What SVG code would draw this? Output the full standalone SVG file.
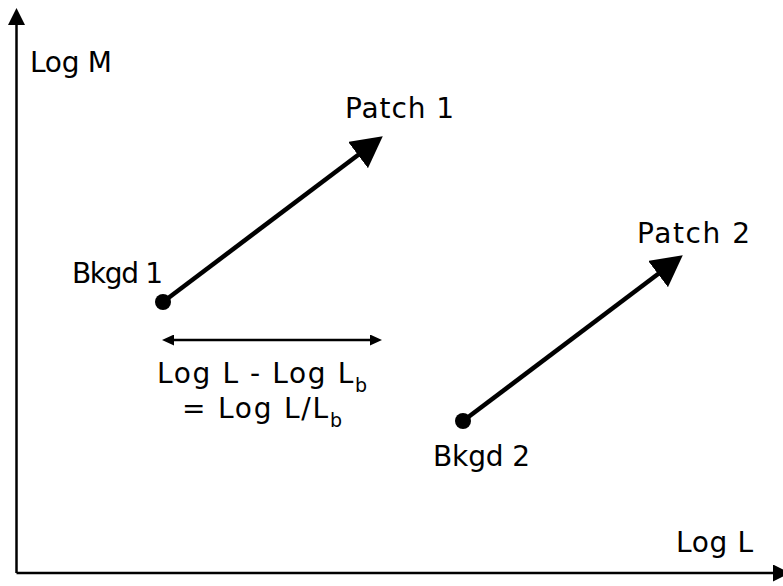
<svg xmlns="http://www.w3.org/2000/svg" width="783" height="586" viewBox="0 0 783 586">
  <style>
    .lbl { font-family: "DejaVu Sans", "Liberation Sans", sans-serif; font-size: 28px; fill: #000; }
    .sub { font-size: 19px; }
    .axis { stroke: #000; stroke-width: 2.5; fill: none; }
    .vec { stroke: #000; stroke-width: 4.5; fill: none; }
    .span { stroke: #000; stroke-width: 2.5; fill: none; }
  </style>
  <defs>
    <marker id="axis-head" markerUnits="userSpaceOnUse" markerWidth="17" markerHeight="17" refX="9" refY="8.5" orient="auto">
      <path d="M0,0 L17,8.5 L0,17 z" fill="#000"/>
    </marker>
    <marker id="vec-head" markerUnits="userSpaceOnUse" markerWidth="31" markerHeight="33" refX="10" refY="16.5" orient="auto">
      <path d="M0,0 L31,16.5 L0,33 z" fill="#000"/>
    </marker>
    <marker id="span-head" markerUnits="userSpaceOnUse" markerWidth="12" markerHeight="11" refX="6" refY="5.5" orient="auto-start-reverse">
      <path d="M0,0 L12,5.5 L0,11 z" fill="#000"/>
    </marker>
  </defs>

  <rect width="783" height="586" fill="#fff"/>

  <!-- axes -->
  <g id="axes">
    <line class="axis" x1="16.5" y1="573" x2="16.5" y2="16" marker-end="url(#axis-head)"/>
    <line class="axis" x1="16.5" y1="573" x2="782" y2="573" marker-end="url(#axis-head)"/>
    <text class="lbl" x="30" y="72" textLength="82" lengthAdjust="spacing">Log M</text>
    <text class="lbl" x="676" y="552" textLength="77" lengthAdjust="spacing">Log L</text>
  </g>

  <!-- background points -->
  <g id="bkgd1">
    <circle cx="163" cy="302" r="8" fill="#000"/>
    <text class="lbl" x="72" y="283" textLength="91" lengthAdjust="spacing">Bkgd 1</text>
  </g>
  <g id="bkgd2">
    <circle cx="463" cy="421" r="8" fill="#000"/>
    <text class="lbl" x="433" y="466" textLength="97" lengthAdjust="spacing">Bkgd 2</text>
  </g>

  <!-- patch labels -->
  <g id="patch1">
    <text class="lbl" x="345" y="118" textLength="109" lengthAdjust="spacing">Patch 1</text>
  </g>
  <g id="patch2">
    <text class="lbl" x="637" y="243" textLength="113" lengthAdjust="spacing">Patch 2</text>
  </g>

  <!-- difference annotation -->
  <g id="difference">
    <text class="lbl" x="157" y="383" textLength="210" lengthAdjust="spacing">Log L - Log L<tspan class="sub" dy="9">b</tspan></text>
    <text class="lbl" x="182" y="418" textLength="160" lengthAdjust="spacing">= Log L/L<tspan class="sub" dy="9">b</tspan></text>
  </g>

  <!-- connectors -->
  <g id="connectors">
    <line class="vec" x1="163" y1="302" x2="366" y2="149" marker-end="url(#vec-head)"/>
    <line class="vec" x1="463" y1="421" x2="666" y2="268" marker-end="url(#vec-head)"/>
    <line class="span" x1="168" y1="340" x2="376" y2="340" marker-start="url(#span-head)" marker-end="url(#span-head)"/>
  </g>
</svg>
